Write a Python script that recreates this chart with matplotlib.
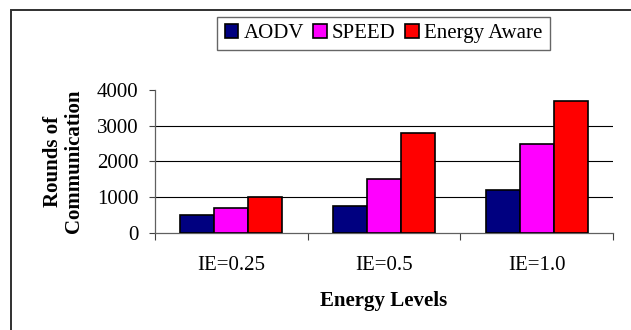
import numpy as np
import matplotlib
matplotlib.use("Agg")
import matplotlib.pyplot as plt
from matplotlib.patches import Rectangle

"""data"""

levels   = ["IE=0.25", "IE=0.5", "IE=1.0"]
aodv     = [500, 750, 1200]
speed    = [700, 1500, 2500]
energy   = [1000, 2800, 3700]
series   = ["AODV", "SPEED", "Energy Aware"]
colors   = ["#000080", "#FF00FF", "#FF0000"]
yticks   = [0, 1000, 2000, 3000, 4000]

"""plot"""

plt.rcParams['font.family'] = ['Liberation Serif', 'DejaVu Serif']
fs = 15

fig = plt.figure(figsize=(6.31, 3.30), dpi=100)
ax1 = fig.add_axes([155/631, 97.3/330, 458/631, 142.7/330])

x  = np.arange(len(levels))
bw = 0.222
for i, (vals, name, c) in enumerate(zip([aodv, speed, energy], series, colors)):
    ax1.bar(x + (i - 1) * bw, vals, width=bw, color=c, edgecolor='k',
            linewidth=1.2, label=name, zorder=3)

"""detail"""

for y in yticks[1:-1]:
    ax1.axhline(y, color='k', linewidth=0.8, zorder=1)

ax1.set_xlim(-0.5, len(levels) - 0.5)
ax1.set_ylim(yticks[0], yticks[-1])
ax1.set_yticks(yticks)
ax1.set_yticklabels([str(v) for v in yticks], fontsize=fs)
ax1.set_xticks(x)
ax1.set_xticklabels(levels, fontsize=fs)
ax1.set_xticks(np.arange(len(levels) + 1) - 0.5, minor=True)
ax1.tick_params(axis='x', which='major', length=0, pad=17)
ax1.tick_params(axis='x', which='minor', length=5, width=0.8, color='#404040')
ax1.tick_params(axis='y', length=4.5, width=0.8, color='#404040', pad=7.5)

for s in ['top', 'right']:
    ax1.spines[s].set_visible(False)
for s in ['left', 'bottom']:
    ax1.spines[s].set_color('#606060')
    ax1.spines[s].set_linewidth(0.9)

ax1.set_xlabel('Energy Levels', fontsize=fs, fontweight='bold', labelpad=11)
ax1.set_ylabel('Rounds of\nCommunication', fontsize=fs, fontweight='bold',
               linespacing=1.05)
ax1.yaxis.set_label_coords(-0.156, 0.5)

leg = ax1.legend(loc='center', bbox_to_anchor=(383.5/631, 296.5/330),
                 bbox_transform=fig.transFigure, ncol=3, fontsize=fs,
                 frameon=True, fancybox=False, shadow=False,
                 handlelength=0.65, handleheight=0.65, handletextpad=0.25,
                 columnspacing=0.45, borderpad=0.35, borderaxespad=0)
leg.get_frame().set_edgecolor('#404040')
leg.get_frame().set_linewidth(1.0)

# outer frame (chart area border)
fig.patches.append(Rectangle((11/631, -0.1), 1.2, 0.1 + 320/330,
                             transform=fig.transFigure, fill=False,
                             edgecolor='#303030', linewidth=1.4))

"""save"""

plt.savefig('out.png', dpi=100)
